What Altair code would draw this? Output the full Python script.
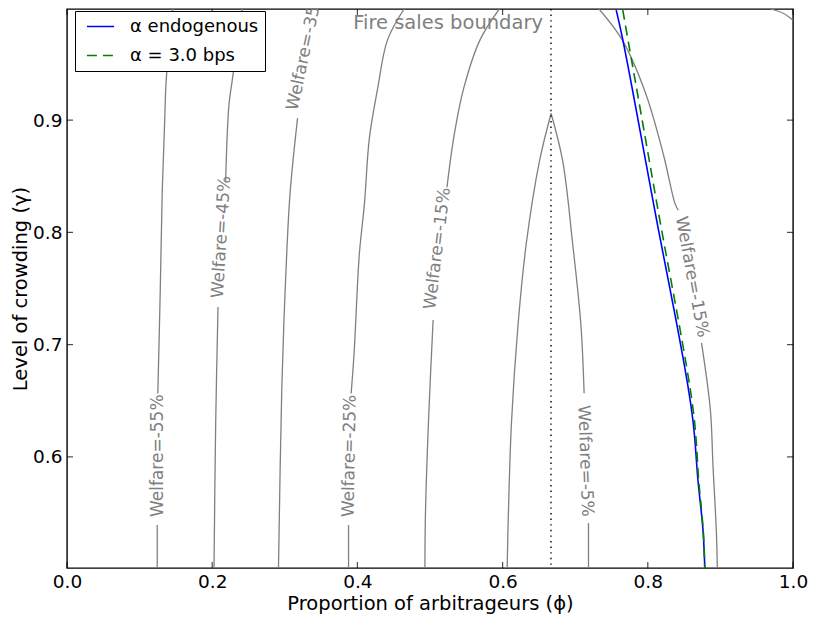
import altair as alt
import pandas as pd

# ---------------- data ----------------
X_TICKS = [0.0, 0.2, 0.4, 0.6, 0.8, 1.0]
Y_TICKS = [0.6, 0.7, 0.8, 0.9]
X_DOMAIN = [0.0, 1.0]
Y_DOMAIN = [0.501, 0.999]
FIRE_SALES_PHI = 2.0 / 3.0
FIRE_TEXT = "Fire sales boundary"
FIRE_TEXT_GAMMA = 0.981

SERIES_NAMES = ["α endogenous", "α = 3.0 bps"]
ENDO_PHI = [0.7565, 0.7655, 0.8079, 0.8603, 0.8693, 0.8761, 0.8785]
ENDO_GAMMA = [0.998, 0.9718, 0.8256, 0.6417, 0.5778, 0.534, 0.501]
FIXED_PHI = [0.7655, 0.8125, 0.8625, 0.8703, 0.8764, 0.8785]
FIXED_GAMMA = [0.998, 0.8256, 0.6417, 0.5778, 0.534, 0.501]

# welfare contour pieces (phi, gamma); gaps are where the labels sit
W55_LOWER = [(0.1243, 0.501), (0.1243, 0.5392)]
W55_UPPER = [(0.1251, 0.6565), (0.1284, 0.7468), (0.1311, 0.8343), (0.1346, 0.9),
             (0.1366, 0.935), (0.1456, 0.999)]
W45_LOWER = [(0.2025, 0.501), (0.2048, 0.6303), (0.2080, 0.7336)]
W45_UPPER = [(0.2185, 0.846), (0.2230, 0.9131), (0.2275, 0.935), (0.2412, 0.999)]
W35_LOWER = [(0.2913, 0.501), (0.2958, 0.6592), (0.3004, 0.7468), (0.3072, 0.8343),
             (0.3176, 0.9018)]
W25_LOWER = [(0.3878, 0.501), (0.3878, 0.5392)]
W25_UPPER = [(0.3914, 0.6566), (0.3955, 0.693), (0.4026, 0.78), (0.4097, 0.8256),
             (0.4165, 0.884), (0.4278, 0.9278), (0.4415, 0.9715), (0.4643, 0.999)]
W15_LOWER = [(0.4930, 0.501), (0.4938, 0.5515), (0.4984, 0.6391), (0.5043, 0.722)]
W15_UPPER = [(0.5234, 0.8402), (0.5326, 0.884), (0.5462, 0.9278), (0.5689, 0.9715),
             (0.5954, 0.999)]
W5_LEFT = [(0.6063, 0.501), (0.6077, 0.5427), (0.6122, 0.6303), (0.6213, 0.7179),
           (0.6327, 0.7905), (0.6508, 0.8635), (0.6668, 0.9059)]
W5_RIGHT = [(0.6668, 0.9059), (0.6828, 0.8635), (0.6964, 0.7905), (0.7078, 0.7179),
            (0.7123, 0.6566)]
W5_LOWER = [(0.7183, 0.541), (0.7183, 0.501)]
W15R_UPPER = [(0.7328, 0.999), (0.7647, 0.9715), (0.7965, 0.9248), (0.8215, 0.8694),
              (0.8375, 0.8256), (0.842, 0.8197)]
W15R_LOWER = [(0.874, 0.7015), (0.8862, 0.6417), (0.8898, 0.592), (0.8944, 0.534),
              (0.8958, 0.501)]
W25R = [(0.9695, 0.999), (0.9877, 0.9948), (1.0, 0.989)]

CONTOUR_SEGMENTS = [W55_LOWER, W55_UPPER, W45_LOWER, W45_UPPER, W35_LOWER,
                    W25_LOWER, W25_UPPER, W15_LOWER, W15_UPPER, W5_LEFT, W5_RIGHT,
                    W5_LOWER, W15R_UPPER, W15R_LOWER, W25R]

LABEL_TEXT = ["Welfare=-55%", "Welfare=-45%", "Welfare=-35%", "Welfare=-25%",
              "Welfare=-15%", "Welfare=-5%", "Welfare=-15%"]
LABEL_PHI = [0.1247, 0.2128, 0.3281, 0.3892, 0.5104, 0.7139, 0.8607]
LABEL_GAMMA = [0.601, 0.7958, 0.9622, 0.6008, 0.7857, 0.5964, 0.7603]
LABEL_ANGLE = [270, 273.5, 282, 271, 277, 88, 79.5]

# ---------------- build tables ----------------
rows = []
for sid, seg in enumerate(CONTOUR_SEGMENTS):
    for k, (p, g) in enumerate(seg):
        rows.append({"phi": p, "gamma": g, "seg": sid, "ord": k})
contour_df = pd.DataFrame(rows)

endo_df = pd.DataFrame({"phi": ENDO_PHI, "gamma": ENDO_GAMMA,
                        "series": SERIES_NAMES[0], "ord": range(len(ENDO_PHI))})
fixed_df = pd.DataFrame({"phi": FIXED_PHI, "gamma": FIXED_GAMMA,
                         "series": SERIES_NAMES[1], "ord": range(len(FIXED_PHI))})
label_df = pd.DataFrame({"phi": LABEL_PHI, "gamma": LABEL_GAMMA,
                         "text": LABEL_TEXT, "angle": LABEL_ANGLE})
fire_df = pd.DataFrame({"phi": [FIRE_SALES_PHI]})
fire_text_df = pd.DataFrame({"phi": [FIRE_SALES_PHI], "gamma": [FIRE_TEXT_GAMMA],
                             "text": [FIRE_TEXT]})
xt_df = pd.DataFrame({"phi": X_TICKS})
yt_df = pd.DataFrame({"gamma": Y_TICKS})

# ---------------- style ----------------
FONT = "DejaVu Sans"
GRAY = "#808080"
W, H = 726, 559

xs = alt.Scale(domain=X_DOMAIN, nice=False, zero=False)
ys = alt.Scale(domain=Y_DOMAIN, nice=False, zero=False)

x_axis = alt.Axis(values=X_TICKS, format=".1f", ticks=False, domain=False, grid=False,
                  labelPadding=4, labelFlush=False, labelOverlap=False,
                  labelFontSize=18.5, labelFont=FONT, labelColor="black",
                  title="Proportion of arbitrageurs (ϕ)", titleFontSize=19.5,
                  titleFont=FONT, titleFontWeight="normal", titleColor="black",
                  titlePadding=4)
y_axis = alt.Axis(values=Y_TICKS, format=".1f", ticks=False, domain=False, grid=False,
                  labelPadding=5, labelOverlap=False,
                  labelFontSize=18.5, labelFont=FONT, labelColor="black",
                  title="Level of crowding (γ)", titleFontSize=19.5,
                  titleFont=FONT, titleFontWeight="normal", titleColor="black",
                  titlePadding=2)

color_scale = alt.Scale(domain=SERIES_NAMES, range=["#0000ff", "#008000"])
dash_scale = alt.Scale(domain=SERIES_NAMES, range=[[1, 0], [10, 6]])
legend = alt.Legend(title=None, orient="none", legendX=8, legendY=2,
                    symbolType="M-1.6,0L1.6,0", symbolSize=289, symbolStrokeWidth=1.6,
                    symbolOffset=10, labelOffset=20, labelFontSize=18, labelFont=FONT,
                    labelColor="black", labelLimit=0, padding=6, rowPadding=10,
                    strokeColor="black", fillColor="white", cornerRadius=0)

contours = alt.Chart(contour_df).mark_line(
    color=GRAY, strokeWidth=1.3, clip=True, interpolate="catmull-rom"
).encode(
    x=alt.X("phi:Q", scale=xs, axis=x_axis),
    y=alt.Y("gamma:Q", scale=ys, axis=y_axis),
    detail="seg:N",
    order="ord:Q",
)

labels = alt.Chart(label_df).mark_text(
    align="center", baseline="middle", fontSize=17, font=FONT, color=GRAY, clip=True
).encode(x="phi:Q", y="gamma:Q", text="text:N",
         angle=alt.Angle("angle:Q", scale=None))

fire_rule = alt.Chart(fire_df).mark_rule(
    color="black", strokeDash=[1.4, 4.2], strokeWidth=1.4
).encode(x="phi:Q")

fire_text = alt.Chart(fire_text_df).mark_text(
    align="right", baseline="alphabetic", dx=-8, fontSize=19.5, font=FONT, color=GRAY
).encode(x="phi:Q", y="gamma:Q", text="text:N")


def series_layer(df):
    return alt.Chart(df).mark_line(
        strokeWidth=1.6, clip=True, interpolate="catmull-rom"
    ).encode(
        x="phi:Q", y="gamma:Q",
        color=alt.Color("series:N", scale=color_scale, legend=legend),
        strokeDash=alt.StrokeDash("series:N", scale=dash_scale, legend=legend),
        order="ord:Q",
    )


endo = series_layer(endo_df)
fixed = series_layer(fixed_df)

tick_style = dict(size=6, thickness=1.2, color="black")
tick_bottom = alt.Chart(xt_df).mark_tick(orient="vertical", **tick_style).encode(
    x="phi:Q", y=alt.value(H - 3))
tick_top = alt.Chart(xt_df).mark_tick(orient="vertical", **tick_style).encode(
    x="phi:Q", y=alt.value(3))
tick_left = alt.Chart(yt_df).mark_tick(orient="horizontal", **tick_style).encode(
    y="gamma:Q", x=alt.value(3))
tick_right = alt.Chart(yt_df).mark_tick(orient="horizontal", **tick_style).encode(
    y="gamma:Q", x=alt.value(W - 3))

chart = alt.layer(
    contours, labels, fire_rule, fire_text, endo, fixed,
    tick_bottom, tick_top, tick_left, tick_right,
).properties(
    width=W, height=H,
    autosize=alt.AutoSizeParams(type="none"),
    padding={"left": 59, "top": 1, "right": 16, "bottom": 47},
).configure_view(stroke="black", strokeWidth=1.4)

chart.save("out.html", embed_options={"renderer": "svg", "actions": False})
